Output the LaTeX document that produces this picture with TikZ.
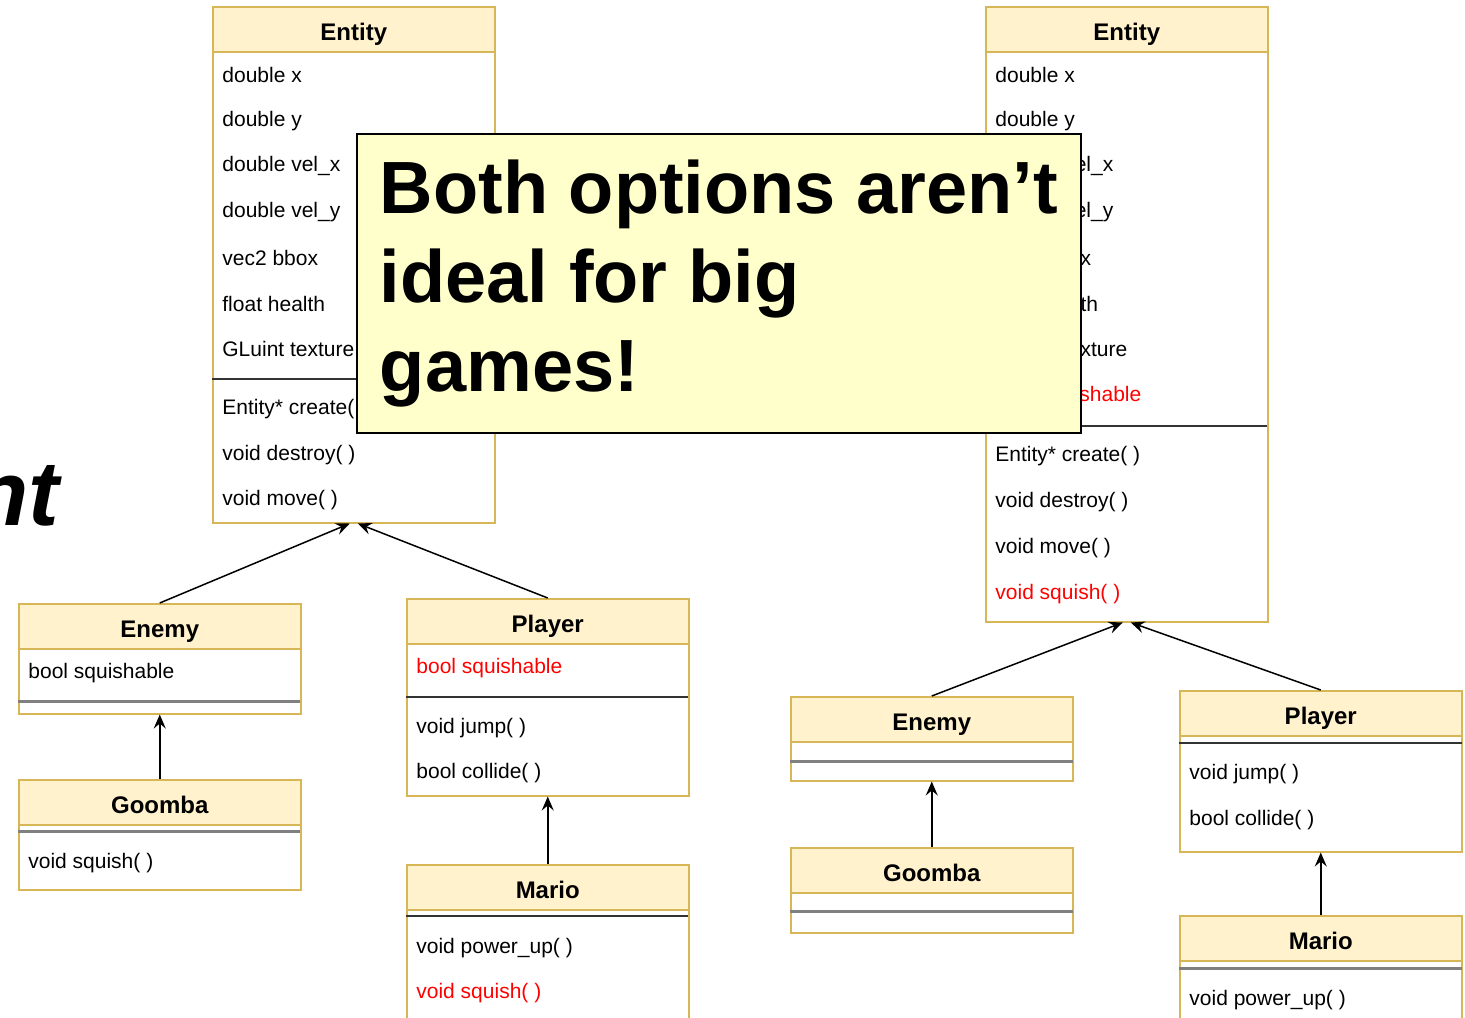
\documentclass[tikz,border=0pt]{standalone}
\usepackage{fontspec}
\setmainfont{Liberation Sans}
\usepackage{tikz}
\usetikzlibrary{arrows.meta}
\usetikzlibrary{positioning}

\definecolor{umlhead}{HTML}{FFF2CC}
\definecolor{umlborder}{HTML}{D6B656}
\definecolor{umlred}{HTML}{FF0000}
\definecolor{notefill}{HTML}{FFFFCC}

\begin{document}
\begin{tikzpicture}[x=0.5pt,y=-0.5pt]
		\tikzset{classbox/.style = {draw=umlborder, fill=white, line width=0.75pt,
				minimum width=141pt, anchor=north west, inner sep=0pt}}
		\tikzset{classhead/.style = {classbox, fill=umlhead, minimum height=22.5pt,
				text height=11.5pt, text depth=0pt,
				font=\fontsize{12}{14}\selectfont\bfseries}}
		\tikzset{row/.style = {anchor=west, inner sep=0pt,
				font=\fontsize{10.5}{12}\selectfont}}
		\tikzset{redrow/.style = {row, text=umlred}}
		\tikzset{sepline/.style = {draw=black!80, line width=0.75pt}}
		\tikzset{emptysep/.style = {draw=black!50, line width=1.5pt}}
		\tikzset{inherit/.style = {-{Stealth[length=7pt, width=6pt, inset=2.5pt]},
				line width=0.75pt}}
		\tikzset{note/.style = {draw=black, fill=notefill, line width=1pt,
				anchor=north west, minimum width=362pt, minimum height=149.5pt,
				align=left, font=\fontsize{37}{44.5}\selectfont\bfseries}}

		\useasboundingbox (0,0) rectangle (1465,1017);

		\node[anchor=base east, inner sep=0pt,
			font=\fontsize{46}{50}\selectfont\bfseries\itshape] (cut) at (60,525) {nt};

		% left option: squishable lives in the subclasses
		\node[classbox, minimum height=258pt] (entL) at (212,6) {};
		\node[classhead] (entLh) at (212,6) {Entity};
		\foreach \txt [count=\i] in {double x, double y, double vel\_x, double vel\_y,
				vec2 bbox, float health, GLuint texture}
			\node[row] (entLa\i) at (222,29.3+45.7*\i) {\txt};
		\draw[sepline] (212,379) -- (494,379);
		\foreach \txt [count=\i] in {Entity* create( ), void destroy( ), void move( )}
			\node[row] (entLm\i) at (222,364+45.5*\i) {\txt};

		\node[classbox, minimum height=55pt] (enL) at (18,603) {};
		\node[classhead] (enLh) at (18,603) {Enemy};
		\node[row] (enLa1) at (28,673) {bool squishable};
		\draw[emptysep] (18,701) -- (300,701);

		\node[classbox, minimum height=55pt] (goL) at (18,779) {};
		\node[classhead] (goLh) at (18,779) {Goomba};
		\draw[emptysep] (18,831) -- (300,831);
		\node[row] (goLm1) at (28,863) {void squish( )};

		\node[classbox, minimum height=98.5pt] (plL) at (406,598) {};
		\node[classhead] (plLh) at (406,598) {Player};
		\node[redrow] (plLa1) at (416,668) {bool squishable};
		\draw[sepline] (406,697) -- (688,697);
		\node[row] (plLm1) at (416,728) {void jump( )};
		\node[row] (plLm2) at (416,773) {bool collide( )};

		\node[classbox, minimum height=88pt] (maL) at (406,864) {};
		\node[classhead] (maLh) at (406,864) {Mario};
		\draw[sepline] (406,916) -- (688,916);
		\node[row] (maLm1) at (416,948) {void power\_up( )};
		\node[redrow] (maLm2) at (416,993) {void squish( )};

		% right option: everything pushed up into Entity
		\node[classbox, minimum height=307.5pt] (entR) at (985,6) {};
		\node[classhead] (entRh) at (985,6) {Entity};
		\foreach \txt [count=\i] in {double x, double y, double vel\_x, double vel\_y,
				vec2 bbox, float health, GLuint texture}
			\node[row] (entRa\i) at (995,29.3+45.7*\i) {\txt};
		\node[redrow] (entRa8) at (995,396) {bool squishable};
		\draw[sepline] (985,426) -- (1267,426);
		\foreach \txt [count=\i] in {Entity* create( ), void destroy( ), void move( )}
			\node[row] (entRm\i) at (995,410+45.9*\i) {\txt};
		\node[redrow] (entRm4) at (995,594) {void squish( )};

		\node[classbox, minimum height=42pt] (enR) at (790,696) {};
		\node[classhead] (enRh) at (790,696) {Enemy};
		\draw[emptysep] (790,761) -- (1073,761);

		\node[classbox, minimum height=42.5pt] (goR) at (790,847) {};
		\node[classhead] (goRh) at (790,847) {Goomba};
		\draw[emptysep] (790,911) -- (1073,911);

		\node[classbox, minimum height=80.5pt] (plR) at (1179,690) {};
		\node[classhead] (plRh) at (1179,690) {Player};
		\draw[sepline] (1179,743) -- (1462,743);
		\node[row] (plRm1) at (1189,774) {void jump( )};
		\node[row] (plRm2) at (1189,820) {bool collide( )};

		\node[classbox, minimum height=62.5pt] (maR) at (1179,915) {};
		\node[classhead] (maRh) at (1179,915) {Mario};
		\draw[emptysep] (1179,968) -- (1462,968);
		\node[row] (maRm1) at (1189,1000) {void power\_up( )};

		%edges
		\draw[inherit] (enL.north) to ([xshift=-2pt]entL.south);
		\draw[inherit] (plL.north) to ([xshift=2pt]entL.south);
		\draw[inherit] (goL.north) to (enL.south);
		\draw[inherit] (maL.north) to (plL.south);

		\draw[inherit] (enR.north) to ([xshift=-2pt]entR.south);
		\draw[inherit] (plR.north) to ([xshift=2pt]entR.south);
		\draw[inherit] (goR.north) to (enR.south);
		\draw[inherit] (maR.north) to (plR.south);

		% note on top
		\node[note] (remark) at (356,133) {Both options aren’t\\ideal for big\\games!};
\end{tikzpicture}
\end{document}
